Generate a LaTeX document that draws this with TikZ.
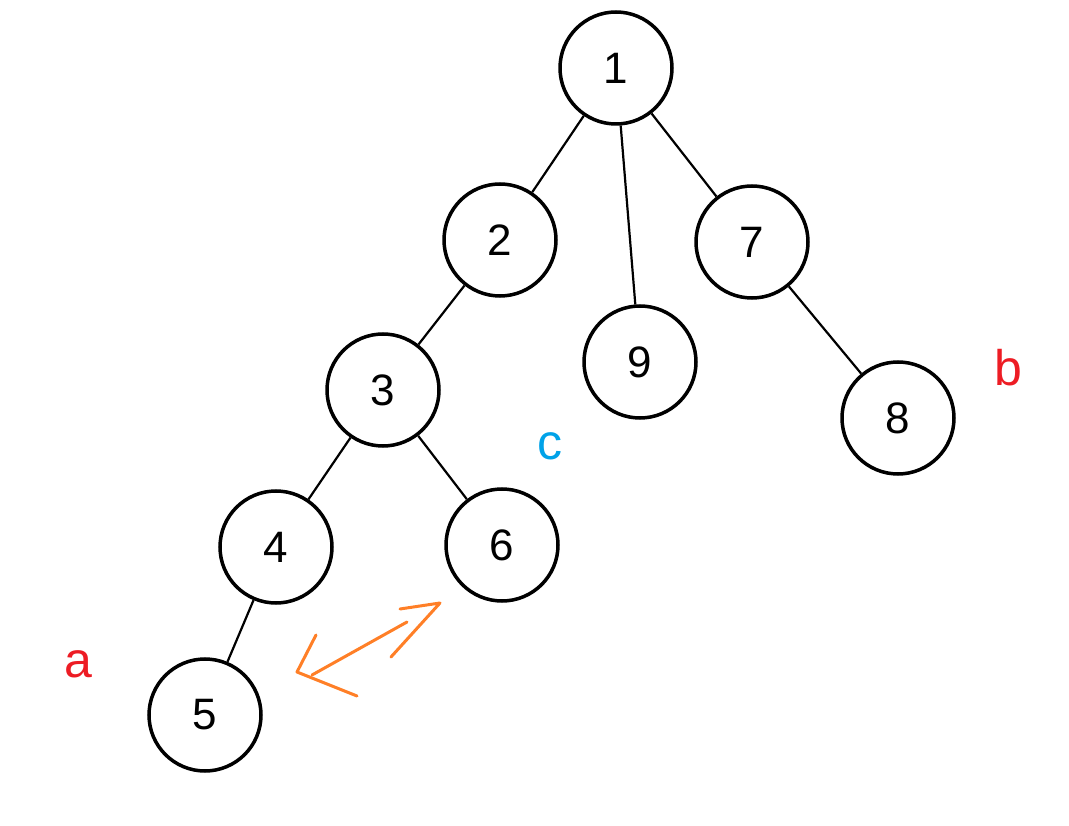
\documentclass[tikz,border=0pt]{standalone}
\usepackage{fontspec}
\setmainfont{Liberation Sans}
\begin{document}
\begin{tikzpicture}[x=1pt,y=-1pt,
  tnode/.style={circle,draw=black,line width=3.5pt,minimum size=112pt,inner sep=0pt,font=\fontsize{44}{44}\selectfont},
  tedge/.style={draw=black,line width=2.2pt},
  lbl/.style={font=\fontsize{50}{50}\selectfont},
  orange arrow/.style={draw={rgb,255:red,255;green,127;blue,39},line width=3pt,line cap=round,line join=round}]
\useasboundingbox (0,0) rectangle (1069,826);
\node[tnode] (n1) at (616,68) {1};
\node[tnode] (n2) at (500,240) {2};
\node[tnode] (n7) at (752,242) {7};
\node[tnode] (n9) at (640,362) {9};
\node[tnode] (n3) at (383,390) {3};
\node[tnode] (n8) at (898,418) {8};
\node[tnode] (n4) at (276,547) {4};
\node[tnode] (n6) at (502,545) {6};
\node[tnode] (n5) at (205,715) {5};
\path[tedge] (n1) -- (n2);
\path[tedge] (n1) -- (n9);
\path[tedge] (n1) -- (n7);
\path[tedge] (n2) -- (n3);
\path[tedge] (n7) -- (n8);
\path[tedge] (n3) -- (n4);
\path[tedge] (n3) -- (n6);
\path[tedge] (n4) -- (n5);
\node[lbl,text={rgb,255:red,237;green,28;blue,36}] (la) at (78,664) {a};
\node[lbl,text={rgb,255:red,237;green,28;blue,36}] (lb) at (1008,368) {b};
\node[lbl,text={rgb,255:red,0;green,162;blue,232}] (lc) at (550,446) {c};
\coordinate (tl) at (297,672);
\coordinate (tr) at (440,603);
\coordinate (s1) at (312,675);
\coordinate (s2) at (407,622);
\coordinate (hl1) at (316,635);
\coordinate (hl2) at (357,696);
\coordinate (hr1) at (400,609);
\coordinate (hr2) at (391,657);
\path[orange arrow] (s1) -- (s2);
\path[orange arrow] (hl1) -- (tl) -- (hl2);
\path[orange arrow] (hr1) -- (tr) -- (hr2);
\end{tikzpicture}
\end{document}
